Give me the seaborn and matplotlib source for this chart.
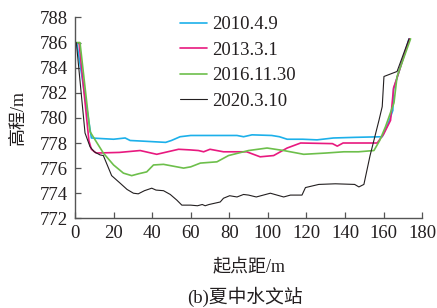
import numpy as np
import pandas as pd
import matplotlib
matplotlib.use("Agg")
import matplotlib.pyplot as plt
import seaborn as sns

# survey dates (legend labels)
labels = ["2010.4.9", "2013.3.1", "2016.11.30", "2020.3.10"]
colors = ["#1cb0ea", "#e8197f", "#6dbf4b", "#231f20"]

# 起点距 (m) / 高程 (m)
x_2010 = [0.9, 8.5, 14, 20, 26, 28.6, 35, 47, 50, 54.5, 60, 70, 84, 87.4, 91.8, 102, 106, 110,
          118, 125.5, 134, 145, 159.3, 162.5, 164.8, 165.2, 167, 173.2]
y_2010 = [786.0, 778.4, 778.35, 778.3, 778.4, 778.2, 778.15, 778.05, 778.2, 778.5, 778.6, 778.6,
          778.6, 778.5, 778.65, 778.6, 778.5, 778.3, 778.3, 778.25, 778.4, 778.45, 778.5, 779.6,
          780.6, 782.3, 783.2, 786.3]

x_2013 = [2.1, 7.2, 8.5, 11, 23, 33.8, 42.4, 53.7, 59.7, 64, 66.7, 70, 77, 89, 96, 103, 110, 117,
          133.5, 136, 139, 156.7, 160, 163.6, 165.2, 167, 173.4]
y_2013 = [786.0, 778.2, 777.5, 777.2, 777.25, 777.4, 777.1, 777.5, 777.45, 777.4, 777.3, 777.5,
          777.3, 777.3, 776.9, 777.0, 777.6, 778.0, 777.95, 777.75, 778.0, 778.0, 778.7, 779.8,
          782.4, 783.2, 786.3]

x_2016 = [0, 2.6, 7.8, 14.7, 20, 25.1, 29.4, 33, 37.2, 40.7, 45.9, 56.3, 60, 65, 73.6, 79.6, 90,
          99.6, 108.2, 118.6, 130, 139.4, 147, 155, 158, 161, 165.4, 167, 174]
y_2016 = [786.0, 786.0, 778.9, 777.2, 776.25, 775.6, 775.4, 775.55, 775.7, 776.25, 776.3, 776.0,
          776.1, 776.4, 776.5, 777.0, 777.4, 777.6, 777.4, 777.1, 777.2, 777.3, 777.3, 777.4,
          778.2, 779.3, 781.2, 783.3, 786.3]

x_2020 = [0.7, 5.2, 7.8, 10, 13, 14.7, 18.2, 19, 23.4, 27, 30.3, 32.8, 36, 39.8, 42, 45.9, 49.4,
          52.8, 55.4, 60, 63.5, 66, 67.5, 69.5, 75.3, 77, 80.2, 84, 87.4, 90, 94, 101.3, 108.2,
          111.7, 117.7, 119.5, 126.4, 135, 145, 147.2, 149.8, 153, 157.6, 159.3, 160.2, 167, 173.2]
y_2020 = [786.0, 778.8, 777.7, 777.3, 777.05, 777.0, 775.7, 775.4, 774.8, 774.3, 774.0, 773.95,
          774.2, 774.4, 774.25, 774.2, 773.9, 773.45, 773.05, 773.05, 773.0, 773.1, 773.0, 773.1,
          773.3, 773.6, 773.8, 773.7, 773.9, 773.85, 773.7, 774.0, 773.7, 773.85, 773.85, 774.45,
          774.7, 774.75, 774.7, 774.5, 774.7, 777.0, 779.8, 780.9, 783.3, 783.7, 786.3]

series = [(x_2010, y_2010), (x_2013, y_2013), (x_2016, y_2016), (x_2020, y_2020)]
widths = [1.2, 1.2, 1.2, 0.8]

sns.set_style("ticks")
plt.rcParams["font.family"] = ["Liberation Serif", "Noto Sans CJK SC"]

fig = plt.figure(figsize=(4.37, 3.08), dpi=100)
ax = fig.add_axes([0.1716, 0.2912, 0.7944, 0.652])

for (xs, ys), lab, c, lw in zip(series, labels, colors, widths):
    df = pd.DataFrame({"x": xs, "y": ys})
    sns.lineplot(data=df, x="x", y="y", ax=ax, color=c, lw=lw, label=lab,
                 estimator=None, sort=False)

ax.set_xlim(0, 180)
ax.set_ylim(772, 788)
ax.set_xticks(np.arange(0, 181, 20))
ax.set_yticks(np.arange(772, 789, 2))
ax.tick_params(direction="in", length=4, width=0.9, colors="#555555",
               labelcolor="#231f20", labelsize=13.5, pad=5)
for s in ["top", "right"]:
    ax.spines[s].set_visible(False)
for s in ["left", "bottom"]:
    ax.spines[s].set_color("#555555")
    ax.spines[s].set_linewidth(1.0)

ax.set_xlabel("起点距/m", fontsize=13, color="#231f20", labelpad=12)
ax.set_ylabel("高程/m", fontsize=13, color="#231f20", labelpad=9)

leg = ax.legend(loc="upper left", bbox_to_anchor=(0.28, 1.045), frameon=False,
                fontsize=13.5, handlelength=1.45, handletextpad=0.3, labelspacing=0.45,
                borderaxespad=0)
for t in leg.get_texts():
    t.set_color("#231f20")

fig.text(0.56, 0.037, "(b)夏中水文站", ha="center", va="center", fontsize=13.5, color="#231f20")

fig.savefig("out.png", dpi=100)
